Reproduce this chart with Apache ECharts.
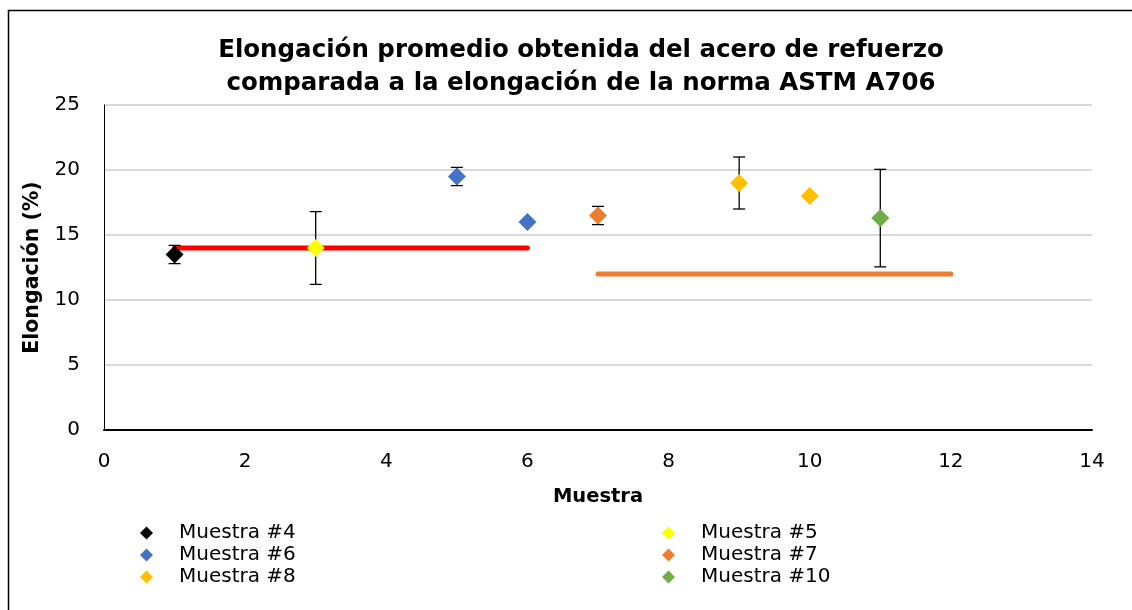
<!DOCTYPE html>
<html><head><meta charset="utf-8">
<script src="https://cdn.jsdelivr.net/npm/echarts@6/dist/echarts.min.js"></script>
<style>html,body{margin:0;padding:0;background:#fff}#c{width:1132px;height:610px}</style>
</head><body><div id="c"></div>
<script>
var seriesNames = ['Muestra #4','Muestra #5','Muestra #6','Muestra #7','Muestra #8','Muestra #10'];
var seriesColors = ['#000000','#FFFF00','#4472C4','#ED7D31','#FFC000','#70AD47'];
var seriesX = [[1],[3],[5,6],[7],[9,10],[11]];
var seriesY = [[13.5],[14],[19.5,16],[16.5],[19,18],[16.3]];
var seriesErr = [[0.7],[2.8],[0.7,0],[0.7],[2.0,0],[3.75]];
var redLine = [[1,14],[6,14]];
var orangeLine = [[7,12],[12,12]];
var xTicks = [0,2,4,6,8,10,12,14];
var yTicks = [0,5,10,15,20,25];

var FONT = 'DejaVu Sans, Verdana, sans-serif';
var chart = echarts.init(document.getElementById('c'));
var series = [];
series.push({type:'line', data:redLine, symbol:'none', lineStyle:{color:'#FF0000', width:5, cap:'round'}, silent:true, z:1});
series.push({type:'line', data:orangeLine, symbol:'none', lineStyle:{color:'#ED7D31', width:5, cap:'round'}, silent:true, z:1});
var errData = [];
for (var i=0;i<seriesX.length;i++) for (var j=0;j<seriesX[i].length;j++) {
  if (seriesErr[i][j] > 0) errData.push([seriesX[i][j], seriesY[i][j]-seriesErr[i][j], seriesY[i][j]+seriesErr[i][j]]);
}
series.push({type:'custom', data:errData, z:2, silent:true,
  renderItem:function(params, api){
    var lo = api.coord([api.value(0), api.value(1)]);
    var hi = api.coord([api.value(0), api.value(2)]);
    var w = 6;
    var st = {stroke:'#000', lineWidth:1.3};
    return {type:'group', children:[
      {type:'line', shape:{x1:lo[0],y1:lo[1],x2:hi[0],y2:hi[1]}, style:st},
      {type:'line', shape:{x1:lo[0]-w,y1:lo[1],x2:lo[0]+w,y2:lo[1]}, style:st},
      {type:'line', shape:{x1:hi[0]-w,y1:hi[1],x2:hi[0]+w,y2:hi[1]}, style:st}
    ]};
  }
});
for (var k=0;k<seriesNames.length;k++) {
  var d = seriesX[k].map(function(x,idx){return [x, seriesY[k][idx]];});
  series.push({type:'scatter', name:seriesNames[k], data:d, symbol:'diamond', symbolSize:18,
    itemStyle:{color:seriesColors[k], opacity:1}, z:3});
}
var legendCommon = {orient:'vertical', itemWidth:13, itemHeight:13, itemGap:2, icon:'diamond',
  textStyle:{fontFamily:FONT, fontSize:20, color:'#000', padding:[0,0,0,21]}};
chart.setOption({
  animation:false,
  color: seriesColors,
  graphic:[{type:'rect', shape:{x:8.5,y:10.5,width:1140,height:620}, style:{fill:'none', stroke:'#000', lineWidth:1.5}, silent:true}],
  title:{text:'Elongación promedio obtenida del acero de refuerzo\ncomparada a la elongación de la norma ASTM A706', left:576, textAlign:'center', top:29,
    textStyle:{fontFamily:FONT, fontWeight:'bold', fontSize:24.5, color:'#000', lineHeight:33}},
  grid:{left:104, right:40, top:105, bottom:180},
  xAxis:{type:'value', min:0, max:14, interval:2, name:'Muestra', nameLocation:'middle', nameGap:57,
    nameTextStyle:{fontFamily:FONT, fontWeight:'bold', fontSize:19.5, color:'#000'},
    axisLine:{show:true, lineStyle:{color:'#000', width:2}}, axisTick:{show:false},
    axisLabel:{fontFamily:FONT, fontSize:20, color:'#000', margin:22},
    splitLine:{show:false}},
  yAxis:{type:'value', min:0, max:25, interval:5, name:'Elongación (%)', nameLocation:'middle', nameGap:60,
    nameTextStyle:{fontFamily:FONT, fontWeight:'bold', fontSize:20.5, color:'#000'},
    axisLine:{show:true, lineStyle:{color:'#000', width:1}}, axisTick:{show:false},
    axisLabel:{fontFamily:FONT, fontSize:20, color:'#000', margin:24},
    splitLine:{show:true, lineStyle:{color:'#D9D9D9', width:2}}},
  legend:[
    Object.assign({left:135, top:518, data:['Muestra #4','Muestra #6','Muestra #8']}, legendCommon),
    Object.assign({left:657, top:518, data:['Muestra #5','Muestra #7','Muestra #10']}, legendCommon)
  ],
  series: series
});
</script></body></html>
